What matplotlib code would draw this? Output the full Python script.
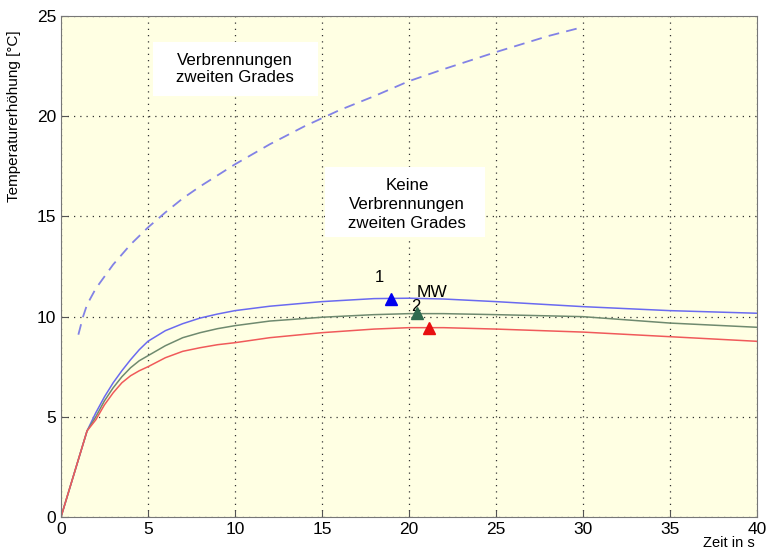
import matplotlib
matplotlib.use("Agg")
import matplotlib.pyplot as plt
from matplotlib.patches import Rectangle

plt.rcParams['font.family'] = ['Liberation Sans', 'DejaVu Sans']

# dashed limit curve (2nd degree burns)
limit_x = [1, 1.27, 1.5, 2, 3, 4, 5, 6, 7, 8, 10, 12, 14, 16, 18, 20, 22, 25, 28, 30]
limit_y = [9.1, 10.0, 10.6, 11.4, 12.6, 13.6, 14.45, 15.2, 15.9, 16.5, 17.6, 18.6,
           19.5, 20.3, 21.0, 21.75, 22.35, 23.2, 24.0, 24.45]

# measured curves
t = [0, 1.5, 2, 2.5, 3, 3.5, 4, 4.5, 5, 6, 7, 8, 9, 10, 12, 15, 18, 20, 22, 25, 30, 35, 40]
curve_1 = [0, 4.3, 5.2, 6.0, 6.7, 7.3, 7.85, 8.35, 8.77, 9.3, 9.65, 9.93, 10.13, 10.3,
           10.52, 10.75, 10.9, 10.92, 10.88, 10.75, 10.5, 10.3, 10.17]
curve_mw = [0, 4.3, 5.0, 5.8, 6.45, 7.0, 7.45, 7.8, 8.05, 8.55, 8.95, 9.2, 9.4, 9.55,
            9.78, 9.97, 10.1, 10.15, 10.15, 10.1, 10.0, 9.68, 9.47]
curve_2 = [0, 4.3, 4.85, 5.6, 6.2, 6.7, 7.05, 7.3, 7.5, 7.95, 8.27, 8.45, 8.6, 8.7,
           8.95, 9.2, 9.38, 9.45, 9.45, 9.38, 9.23, 9.0, 8.77]

# peak markers
peak_x = [19.0, 20.46, 21.15]
peak_y = [10.9, 10.2, 9.45]
peak_colors = ['#0000ee', '#2f6b4f', '#e81010']

fig = plt.figure(figsize=(7.66, 5.53), dpi=100)
ax = fig.add_axes([0.0796, 0.065, 0.9084, 0.906])
ax.set_facecolor('#ffffe3')

ax.plot(limit_x, limit_y, color='#8282e6', lw=1.3, ls=(0, (6, 4)))
ax.plot(t, curve_1, color='#6a6af0', lw=1.1)
ax.plot(t, curve_mw, color='#6f8a6f', lw=1.1)
ax.plot(t, curve_2, color='#f05a5a', lw=1.1)

ax.text(18.3, 11.6, '1', fontsize=12, ha='center', va='bottom', zorder=5)
ax.text(20.46, 10.85, 'MW', fontsize=12.5, ha='left', va='bottom', zorder=5)
ax.text(20.37, 10.15, '2', fontsize=12, ha='center', va='bottom', zorder=4)

for px, py, c in zip(peak_x, peak_y, peak_colors):
    ax.plot(px, py, marker='^', color=c, ms=9, ls='none', zorder=6)

# white label boxes
ax.add_patch(Rectangle((5.29, 21.0), 9.48, 2.7, facecolor='white',
                       edgecolor='none', zorder=3))
ax.add_patch(Rectangle((15.17, 13.95), 9.2, 3.5, facecolor='white',
                       edgecolor='none', zorder=3))
ax.text(10.0, 22.35, 'Verbrennungen\nzweiten Grades', fontsize=12.2, ha='center',
        va='center', linespacing=1.15, zorder=4)
ax.text(19.9, 15.6, 'Keine\nVerbrennungen\nzweiten Grades', fontsize=12.2,
        ha='center', va='center', linespacing=1.3, zorder=4)

ax.set_xlim(0, 40)
ax.set_ylim(0, 25)
ax.set_xticks(range(0, 41, 5))
ax.set_yticks(range(0, 26, 5))
ax.grid(True, color='#333333', ls=(0, (1, 4)), lw=0.9)
ax.tick_params(direction='in', length=5, labelsize=12.5, color='#555555')
for s in ax.spines.values():
    s.set_color('#777777')

ax.set_ylabel('Temperaturerhöhung [°C]', fontsize=11)
ax.yaxis.set_label_coords(-0.058, 0.8)
fig.text(0.985, 0.005, 'Zeit in s', fontsize=10.5, ha='right', va='bottom')

fig.savefig('out.png', dpi=100)
